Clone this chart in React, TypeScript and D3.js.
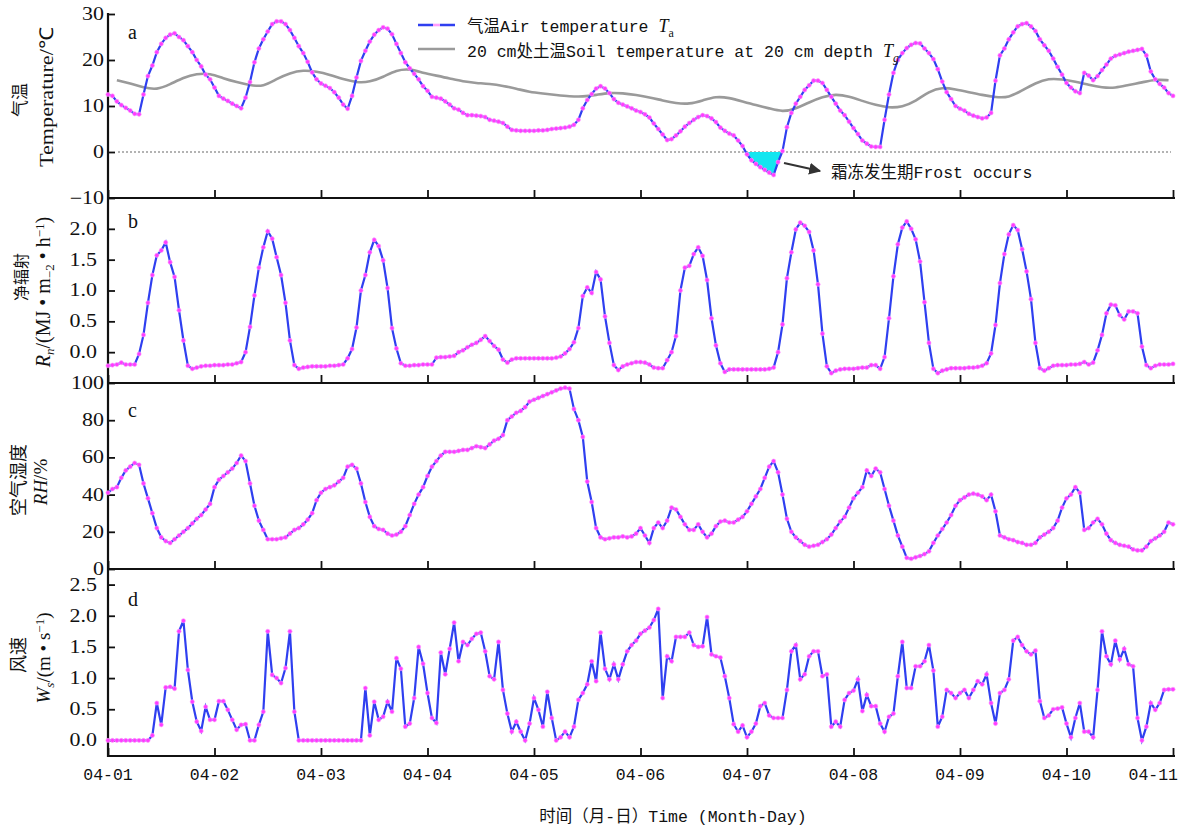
import React, { useEffect, useRef } from "react";
import * as d3 from "d3";

// tick labels along the shared time axis
const dayLabels = ["04-01", "04-02", "04-03", "04-04", "04-05", "04-06", "04-07", "04-08", "04-09", "04-10", "04-11"];

// hourly air temperature (°C), 04-01 00:00 .. 04-11 00:00
const airTemp = [
  12.5, 12.2, 11.0, 10.2, 9.6, 9.0, 8.3, 8.2, 12.5, 16.5, 18.8, 21.7, 23.5, 24.8, 25.5, 25.8, 25.0, 24.3, 23.0, 21.7, 20.0, 18.6, 16.8, 15.8,
  14.0, 12.2, 11.6, 11.1, 10.5, 10.0, 9.5, 11.8, 15.2, 19.5, 22.5, 24.5, 26.2, 27.8, 28.4, 28.4, 27.8, 26.5, 24.8, 23.0, 21.5, 19.6, 17.3, 15.8,
  14.9, 14.4, 13.9, 13.0, 11.8, 10.3, 9.4, 12.2, 16.2, 19.8, 22.0, 24.0, 25.5, 26.5, 27.1, 26.8, 25.6, 23.5, 21.5, 19.5, 18.2, 17.0, 15.8, 14.3,
  13.3, 12.0, 11.8, 11.6, 11.0, 10.3, 9.5, 9.2, 8.5, 8.0, 8.0, 7.9, 7.8, 7.6, 7.0, 6.8, 6.6, 6.3, 5.5, 4.8, 4.7, 4.6, 4.6, 4.6,
  4.6, 4.7, 4.7, 4.8, 5.0, 5.1, 5.2, 5.3, 5.5, 5.9, 7.0, 9.5, 11.3, 12.6, 13.8, 14.3, 13.8, 12.8, 11.5, 10.7, 10.3, 9.9, 9.5, 9.0,
  8.7, 8.2, 7.5, 6.2, 5.0, 3.8, 2.6, 2.8, 3.6, 4.5, 5.5, 6.3, 7.0, 7.6, 8.0, 7.8, 7.3, 6.5, 5.3, 4.6, 4.0, 3.6, 2.5, 1.3,
  -0.5, -1.8, -2.6, -3.3, -3.9, -4.5, -5.0, -2.2, 0.2, 5.4, 8.5, 10.5, 12.0, 13.5, 14.5, 15.5, 15.5, 15.0, 13.5, 12.0, 10.5, 9.0, 8.0, 6.6,
  5.2, 3.9, 2.5, 1.8, 1.2, 1.1, 1.1, 7.0, 12.5, 17.2, 20.0, 21.5, 22.6, 23.3, 23.7, 23.6, 22.5, 21.5, 20.2, 18.0, 15.3, 13.0, 11.5, 10.0,
  9.4, 9.0, 8.3, 7.9, 7.6, 7.3, 7.5, 8.5, 15.5, 21.0, 22.5, 24.5, 26.0, 27.3, 27.8, 28.0, 27.3, 26.3, 24.5, 23.2, 22.0, 20.3, 18.5, 16.8,
  15.0, 14.0, 13.2, 12.8, 17.2, 16.6, 15.6, 16.5, 17.8, 19.0, 20.3, 20.9, 21.2, 21.5, 21.8, 22.0, 22.2, 22.4, 21.0, 17.5, 15.8, 14.8, 14.0, 12.8,
  12.2,
];

// soil temperature at 20 cm (°C), every 3 h starting at 02:00 on 04-01
const soilStartHour = 2;
const soilStep = 3;
const soilTemp = [
  15.6, 14.9, 14.0, 13.5, 14.7, 16.2, 17.0, 17.1, 16.0, 15.2, 14.5, 14.2, 15.9, 17.2, 17.8, 17.5,
  16.8, 15.8, 15.1, 15.2, 16.3, 17.8, 18.1, 17.2, 16.6, 16.0, 15.3, 15.0, 14.8, 14.4, 13.8, 13.0,
  12.7, 12.4, 12.1, 12.0, 12.4, 12.9, 12.8, 12.4, 11.9, 11.2, 10.6, 10.4, 11.2, 12.1, 11.8, 11.0,
  10.2, 9.5, 8.7, 9.4, 10.8, 12.0, 12.6, 12.1, 11.1, 10.2, 9.6, 9.8, 11.0, 13.2, 14.1, 13.6,
  13.0, 12.4, 11.9, 11.8, 13.4, 15.0, 16.0, 15.8, 15.3, 14.6, 14.0, 13.9, 14.6, 15.1, 15.8, 15.6,
];

// hourly net radiation (MJ·m-2·h-1)
const netRad = [
  -0.22, -0.21, -0.2, -0.17, -0.2, -0.2, -0.2, -0.03, 0.28, 0.8, 1.25, 1.57, 1.65, 1.78, 1.46, 1.22, 0.68, 0.19, -0.22, -0.27, -0.25, -0.23, -0.22, -0.22,
  -0.21, -0.21, -0.21, -0.2, -0.2, -0.18, -0.16, 0.0, 0.41, 0.92, 1.37, 1.7, 1.96, 1.84, 1.54, 1.25, 0.8, 0.19, -0.21, -0.27, -0.25, -0.24, -0.23, -0.23,
  -0.23, -0.23, -0.22, -0.22, -0.21, -0.2, -0.1, 0.05, 0.4, 1.0, 1.25, 1.62, 1.82, 1.72, 1.49, 1.04, 0.39, 0.06, -0.18, -0.22, -0.22, -0.21, -0.21, -0.2,
  -0.2, -0.2, -0.09, -0.08, -0.08, -0.07, -0.06, 0.0, 0.03, 0.08, 0.12, 0.15, 0.2, 0.26, 0.18, 0.1, 0.04, -0.12, -0.17, -0.12, -0.1, -0.1, -0.1, -0.1,
  -0.1, -0.1, -0.1, -0.1, -0.1, -0.09, -0.07, -0.02, 0.05, 0.16, 0.39, 0.91, 1.05, 0.96, 1.3, 1.18, 0.58, 0.15, -0.21, -0.29, -0.23, -0.2, -0.18, -0.16,
  -0.16, -0.17, -0.2, -0.25, -0.26, -0.26, -0.13, 0.0, 0.26, 1.0, 1.37, 1.4, 1.59, 1.7, 1.56, 1.17, 0.55, 0.11, -0.18, -0.32, -0.28, -0.28, -0.28, -0.28,
  -0.28, -0.28, -0.28, -0.28, -0.28, -0.27, -0.25, 0.0, 0.45, 1.2, 1.62, 1.99, 2.1, 2.05, 1.95, 1.65, 1.1, 0.3, -0.23, -0.34, -0.3, -0.28, -0.27, -0.27,
  -0.27, -0.26, -0.25, -0.25, -0.21, -0.21, -0.27, -0.08, 0.55, 1.23, 1.75, 2.02, 2.12, 2.0, 1.83, 1.47, 0.81, 0.15, -0.27, -0.34, -0.3, -0.28, -0.26, -0.26,
  -0.26, -0.26, -0.25, -0.25, -0.24, -0.22, -0.18, -0.02, 0.44, 1.12, 1.59, 1.91, 2.06, 1.98, 1.67, 1.31, 0.86, 0.15, -0.26, -0.3, -0.26, -0.22, -0.21, -0.21,
  -0.21, -0.2, -0.2, -0.19, -0.16, -0.2, -0.17, 0.03, 0.28, 0.63, 0.77, 0.76, 0.6, 0.53, 0.66, 0.66, 0.63, 0.09, -0.21, -0.26, -0.22, -0.2, -0.2, -0.2,
  -0.19,
];

// hourly relative humidity (%)
const humidity = [
  41, 43, 44, 49, 53, 55, 57, 56, 46, 38, 30, 22, 17, 15, 14, 16, 18, 20, 22, 24.5, 27, 29, 32, 35,
  44, 48, 50, 52, 54, 57, 61, 58, 46, 34, 26, 21, 16, 16, 16, 16.5, 17, 19, 21, 22, 24, 26.5, 30, 37,
  41, 43, 44, 45, 47, 49, 55, 56, 54, 46, 36, 28, 23, 21.5, 21, 19, 18, 18.5, 20, 23, 29, 35, 40, 44,
  50, 55, 58, 61, 63, 63, 63, 63.5, 64, 64, 65, 66, 65.5, 65, 67, 69, 70, 72, 80, 82, 84, 85, 87, 90,
  91, 92, 93, 94, 95, 96, 97, 97.5, 97, 86, 80, 71, 47, 36, 22, 17, 16, 16.5, 17, 17, 17.5, 17, 17.5, 19,
  22, 18, 14, 22, 25, 22, 26, 33, 32, 28, 24, 21, 21, 24, 20, 17, 19, 23, 25.5, 26, 25, 25, 26.5, 28,
  31, 35, 39, 43, 49, 55, 58, 52, 40, 27, 20, 17, 15, 13, 12, 12.5, 13, 14.5, 16, 18.5, 22, 25.5, 28, 33,
  38, 41, 44, 53, 50, 54, 52, 43, 34, 26, 18, 12, 6, 5.5, 6.3, 7, 8, 9.5, 14, 18, 21.5, 25, 29, 34,
  37, 38.5, 40, 40.5, 40, 39, 37, 40, 31, 18, 17, 16, 15.5, 14.5, 14, 13, 13, 14, 17, 18.5, 20, 22, 26, 33,
  38, 40, 44, 41, 21, 22, 25, 27, 24, 19, 15.5, 14, 13, 12.5, 12, 10.5, 10, 10, 12, 15, 16.5, 18, 20, 25,
  24,
];

// hourly wind speed (m·s-1)
const windSpeed = [
  0, 0, 0, 0, 0, 0, 0, 0, 0, 0, 0.08, 0.6, 0.25, 0.85, 0.86, 0.83, 1.75, 1.92, 1.13, 0.62, 0.3, 0.15, 0.54, 0.33,
  0.33, 0.63, 0.63, 0.49, 0.33, 0.17, 0.25, 0.26, 0, 0, 0.25, 0.46, 1.75, 1.05, 1.0, 0.92, 1.16, 1.75, 0.46, 0, 0, 0, 0, 0,
  0, 0, 0, 0, 0, 0, 0, 0, 0, 0, 0.84, 0.08, 0.62, 0.33, 0.38, 0.62, 0.46, 1.32, 1.15, 0.22, 0.27, 0.68, 1.5, 1.23,
  0.76, 0.36, 0.28, 1.41, 1.06, 1.47, 1.89, 1.27, 1.58, 1.53, 1.63, 1.71, 1.73, 1.43, 1.03, 0.98, 1.58, 0.81, 0.43, 0.14, 0.3, 0.14, 0, 0.27,
  0.68, 0.49, 0.22, 0.78, 0.36, 0, 0.05, 0.14, 0.05, 0.22, 0.65, 0.76, 0.9, 1.27, 0.95, 1.73, 1.15, 0.98, 1.22, 0.98, 1.22, 1.43, 1.53, 1.6,
  1.71, 1.76, 1.81, 1.93, 2.11, 0.68, 1.35, 1.27, 1.66, 1.66, 1.66, 1.73, 1.53, 1.5, 1.51, 1.98, 1.38, 1.35, 1.33, 1.03, 0.68, 0.26, 0.14, 0.24,
  0.05, 0.14, 0.27, 0.55, 0.6, 0.4, 0.36, 0.36, 0.36, 0.81, 1.43, 1.53, 0.98, 1.06, 1.35, 1.43, 1.43, 1.03, 1.06, 0.22, 0.3, 0.22, 0.65, 0.76,
  0.8, 0.98, 0.47, 0.73, 0.55, 0.55, 0.27, 0.14, 0.38, 0.43, 1.03, 1.58, 0.84, 0.84, 1.19, 1.19, 1.27, 1.53, 1.12, 0.22, 0.38, 0.81, 0.76, 0.68,
  0.76, 0.81, 0.68, 0.81, 0.95, 0.9, 1.06, 0.6, 0.27, 0.76, 0.81, 0.98, 1.6, 1.66, 1.53, 1.43, 1.38, 1.44, 0.63, 0.36, 0.4, 0.5, 0.51, 0.53,
  0.27, 0.05, 0.36, 0.6, 0.14, 0.14, 0.05, 0.81, 1.75, 1.35, 1.22, 1.6, 1.3, 1.47, 1.22, 1.19, 0.36, 0, 0.22, 0.6, 0.49, 0.6, 0.81, 0.82,
  0.82,
];

const tempTicks = [30, 20, 10, 0, -10];
const radTicks = [0, 0.5, 1, 1.5, 2];
const rhTicks = [0, 20, 40, 60, 80, 100];
const windTicks = [0, 0.5, 1, 1.5, 2, 2.5];

const W = 1191;
const H = 826;
const X0 = 108;
const X1 = 1173;
const BLUE = "#2f3ff0";
const PINK = "#ff3cff";
const SERIF = "'Liberation Serif', 'Times New Roman', serif";
const MONO = "'Liberation Mono', 'Noto Sans CJK SC', monospace";
const CJK = "'Noto Sans CJK SC', sans-serif";

const start = new Date(2021, 3, 1);

export default function App() {
  const ref = useRef<SVGSVGElement>(null);

  useEffect(() => {
    const svg = d3.select(ref.current);
    svg.selectAll("*").remove();

    svg.append("rect").attr("width", W).attr("height", H).attr("fill", "#fff");

    const x = d3
      .scaleTime()
      .domain([start, d3.timeDay.offset(start, 10)])
      .range([X0, X1]);
    const xh = (h: number) => x(new Date(start.getTime() + h * 3600e3));

    const panels = [
      { letter: "a", top: 14, bottom: 198, domain: [-10, 30], ticks: tempTicks, fmt: (v: number) => (v < 0 ? "\u2212" + Math.abs(v) : String(v)), labelEnd: 104, letterY: 39 },
      { letter: "b", top: 198, bottom: 383, domain: [-0.5, 2.5], ticks: radTicks, fmt: d3.format(".1f"), labelEnd: 97, letterY: 228 },
      { letter: "c", top: 383, bottom: 569, domain: [0, 100], ticks: rhTicks, fmt: (v: number) => String(v), labelEnd: 104, letterY: 417 },
      { letter: "d", top: 569, bottom: 756, domain: [-0.25, 2.75], ticks: windTicks, fmt: d3.format(".1f"), labelEnd: 97, letterY: 606 },
    ];

    const scales = panels.map((p) =>
      d3.scaleLinear().domain(p.domain).range([p.bottom, p.top])
    );

    // axes and frame
    panels.forEach((p, k) => {
      const y = scales[k];

      const bottomAxis = svg
        .append("g")
        .attr("transform", "translate(0," + p.bottom + ")")
        .call(
          d3
            .axisBottom(x)
            .ticks(d3.timeDay.every(1))
            .tickSize(-8)
            .tickSizeOuter(0)
            .tickFormat(() => "")
        );
      bottomAxis.select(".domain").attr("stroke", "#111").attr("stroke-width", 2.2).attr("d", "M" + X0 + ",0H" + (X1 + 2));
      bottomAxis.selectAll(".tick line").attr("stroke", "#111").attr("stroke-width", 1.8);

      const leftAxis = svg
        .append("g")
        .attr("transform", "translate(" + X0 + ",0)")
        .call(d3.axisLeft(y).tickValues(p.ticks).tickSize(-7).tickFormat(() => ""));
      leftAxis.select(".domain").remove();
      leftAxis.selectAll(".tick line").attr("stroke", "#111").attr("stroke-width", 1.8);

      p.ticks.forEach((t) => {
        svg
          .append("g")
          .attr("transform", "translate(" + p.labelEnd + "," + y(t) + ")")
          .append("text")
          .attr("transform", "scale(1.22,1)")
          .attr("text-anchor", "end")
          .attr("dy", "0.33em")
          .style("font-family", SERIF)
          .style("font-size", "18px")
          .attr("fill", "#111")
          .text(p.fmt(t));
      });

      svg
        .append("text")
        .attr("x", 128)
        .attr("y", p.letterY)
        .style("font-family", SERIF)
        .style("font-size", "20px")
        .attr("fill", "#111")
        .text(p.letter);
    });

    svg
      .append("line")
      .attr("x1", X0)
      .attr("x2", X0)
      .attr("y1", 13)
      .attr("y2", 757)
      .attr("stroke", "#111")
      .attr("stroke-width", 2.2);

    // x tick labels
    dayLabels.forEach((lab, i) => {
      const last = i === dayLabels.length - 1;
      svg
        .append("text")
        .attr("x", last ? X1 + 5 : x(d3.timeDay.offset(start, i)))
        .attr("y", 780)
        .attr("text-anchor", last ? "end" : "middle")
        .style("font-family", MONO)
        .style("font-size", "16.5px")
        .attr("fill", "#111")
        .text(lab);
    });

    svg
      .append("text")
      .attr("x", 673)
      .attr("y", 822)
      .attr("text-anchor", "middle")
      .style("font-family", MONO)
      .style("font-size", "16.5px")
      .attr("fill", "#111")
      .text("时间（月-日）Time (Month-Day)");

    // panel a extras
    const yA = scales[0];
    svg
      .append("line")
      .attr("x1", 118)
      .attr("x2", X1 - 2)
      .attr("y1", yA(0))
      .attr("y2", yA(0))
      .attr("stroke", "#9a9a9a")
      .attr("stroke-width", 1.6)
      .attr("stroke-dasharray", "2,2");

    const frostPts: [number, number][] = [];
    airTemp.forEach((v, i) => {
      if (i > 0) {
        const prev = airTemp[i - 1];
        if (prev >= 0 !== v >= 0) {
          frostPts.push([i - 1 + prev / (prev - v), 0]);
        }
      }
      if (v < 0) frostPts.push([i, v]);
    });
    svg
      .append("path")
      .datum(frostPts)
      .attr(
        "d",
        d3
          .area<[number, number]>()
          .x((d) => xh(d[0]))
          .y0(yA(0))
          .y1((d) => yA(d[1]))
      )
      .attr("fill", "#14e6f0");

    const soilLine = d3
      .line<number>()
      .x((d, i) => xh(soilStartHour + i * soilStep))
      .y((d) => yA(d))
      .curve(d3.curveBasis);
    svg
      .append("path")
      .datum(soilTemp)
      .attr("d", soilLine)
      .attr("fill", "none")
      .attr("stroke", "#9a9a9a")
      .attr("stroke-width", 2.6);

    // hourly series with markers
    const series = [airTemp, netRad, humidity, windSpeed];
    series.forEach((vals, k) => {
      const y = scales[k];
      const line = d3
        .line<number>()
        .x((d, i) => xh(i))
        .y((d) => y(d));
      svg
        .append("path")
        .datum(vals)
        .attr("d", line)
        .attr("fill", "none")
        .attr("stroke", BLUE)
        .attr("stroke-width", 2.2);
      svg
        .append("g")
        .selectAll("circle")
        .data(vals)
        .enter()
        .append("circle")
        .attr("cx", (d, i) => xh(i))
        .attr("cy", (d) => y(d))
        .attr("r", 2.1)
        .attr("fill", PINK)
        .attr("stroke", "#ff9cff")
        .attr("stroke-opacity", 0.6)
        .attr("stroke-width", 1);
    });

    // legend
    svg
      .append("line")
      .attr("x1", 418)
      .attr("x2", 455)
      .attr("y1", 25)
      .attr("y2", 25)
      .attr("stroke", BLUE)
      .attr("stroke-width", 2.6)
      .attr("stroke-dasharray", "15,7");
    svg
      .append("line")
      .attr("x1", 433)
      .attr("x2", 440)
      .attr("y1", 25)
      .attr("y2", 25)
      .attr("stroke", PINK)
      .attr("stroke-opacity", 0.5)
      .attr("stroke-width", 2.6);
    svg
      .append("line")
      .attr("x1", 418)
      .attr("x2", 455)
      .attr("y1", 49)
      .attr("y2", 49)
      .attr("stroke", "#9a9a9a")
      .attr("stroke-width", 2.6);

    const leg1 = svg
      .append("text")
      .attr("x", 467)
      .attr("y", 32)
      .style("font-family", MONO)
      .style("font-size", "16.5px")
      .attr("fill", "#111");
    leg1.append("tspan").text("气温Air temperature ");
    leg1.append("tspan").style("font-family", SERIF).style("font-style", "italic").style("font-size", "18px").text("T");
    leg1.append("tspan").attr("dy", 5).style("font-family", SERIF).style("font-size", "12px").text("a");

    const leg2 = svg
      .append("text")
      .attr("x", 467)
      .attr("y", 57)
      .style("font-family", MONO)
      .style("font-size", "16.5px")
      .attr("fill", "#111");
    leg2.append("tspan").text("20 cm处土温Soil temperature at 20 cm depth ");
    leg2.append("tspan").style("font-family", SERIF).style("font-style", "italic").style("font-size", "18px").text("T");
    leg2.append("tspan").attr("dy", 5).style("font-family", SERIF).style("font-style", "italic").style("font-size", "12px").text("g");

    // frost annotation
    svg
      .append("defs")
      .append("marker")
      .attr("id", "arrowHead")
      .attr("viewBox", "0 0 10 10")
      .attr("refX", 9)
      .attr("refY", 5)
      .attr("markerWidth", 12)
      .attr("markerHeight", 12)
      .attr("markerUnits", "userSpaceOnUse")
      .attr("orient", "auto")
      .append("path")
      .attr("d", "M0,0L10,5L0,10Z")
      .attr("fill", "#333");
    svg
      .append("line")
      .attr("x1", 784)
      .attr("y1", 163)
      .attr("x2", 820)
      .attr("y2", 171)
      .attr("stroke", "#333")
      .attr("stroke-width", 2.2)
      .attr("marker-end", "url(#arrowHead)");
    svg
      .append("text")
      .attr("x", 831)
      .attr("y", 178)
      .style("font-family", MONO)
      .style("font-size", "16.5px")
      .attr("fill", "#111")
      .text("霜冻发生期Frost occurs");

    // y axis titles
    const vtitle = (cx: number, cy: number, len: number | null, size: number, font: string) => {
      const t = svg
        .append("g")
        .attr("transform", "translate(" + cx + "," + cy + ") rotate(-90)")
        .append("text")
        .attr("text-anchor", "middle")
        .style("font-family", font)
        .style("font-size", size + "px")
        .attr("fill", "#111");
      if (len) t.attr("textLength", len).attr("lengthAdjust", "spacingAndGlyphs");
      return t;
    };

    vtitle(26, 100, null, 17, CJK).text("气温");
    vtitle(53, 97, 140, 19, SERIF).text("Temperature/℃");

    vtitle(27, 277, null, 16, CJK).text("净辐射");
    const rn = vtitle(50, 292, null, 20, SERIF);
    rn.append("tspan").style("font-style", "italic").text("R");
    rn.append("tspan").attr("dy", 4).style("font-size", "13px").style("font-style", "italic").text("n");
    rn.append("tspan").attr("dy", -4).text("/(MJ • m");
    rn.append("tspan").attr("dy", 4).style("font-size", "13px").text("\u22122");
    rn.append("tspan").attr("dy", -4).text(" • h");
    rn.append("tspan").attr("dy", -6).style("font-size", "13px").text("\u22121");
    rn.append("tspan").attr("dy", 6).text(")");

    vtitle(25, 480, null, 18, CJK).text("空气湿度");
    const rh = vtitle(47, 482, null, 19, SERIF);
    rh.append("tspan").style("font-style", "italic").text("RH");
    rh.append("tspan").text("/%");

    vtitle(25, 655, null, 18, CJK).text("风速");
    const ws = vtitle(50, 658, null, 19, SERIF);
    ws.append("tspan").style("font-style", "italic").text("W");
    ws.append("tspan").attr("dy", 4).style("font-size", "13px").style("font-style", "italic").text("s");
    ws.append("tspan").attr("dy", -4).text("/(m • s");
    ws.append("tspan").attr("dy", -6).style("font-size", "13px").text("\u22121");
    ws.append("tspan").attr("dy", 6).text(")");
  }, []);

  return (
    <svg
      ref={ref}
      width={W}
      height={H}
      style={{ position: "absolute", left: 0, top: 0, display: "block" }}
    />
  );
}
